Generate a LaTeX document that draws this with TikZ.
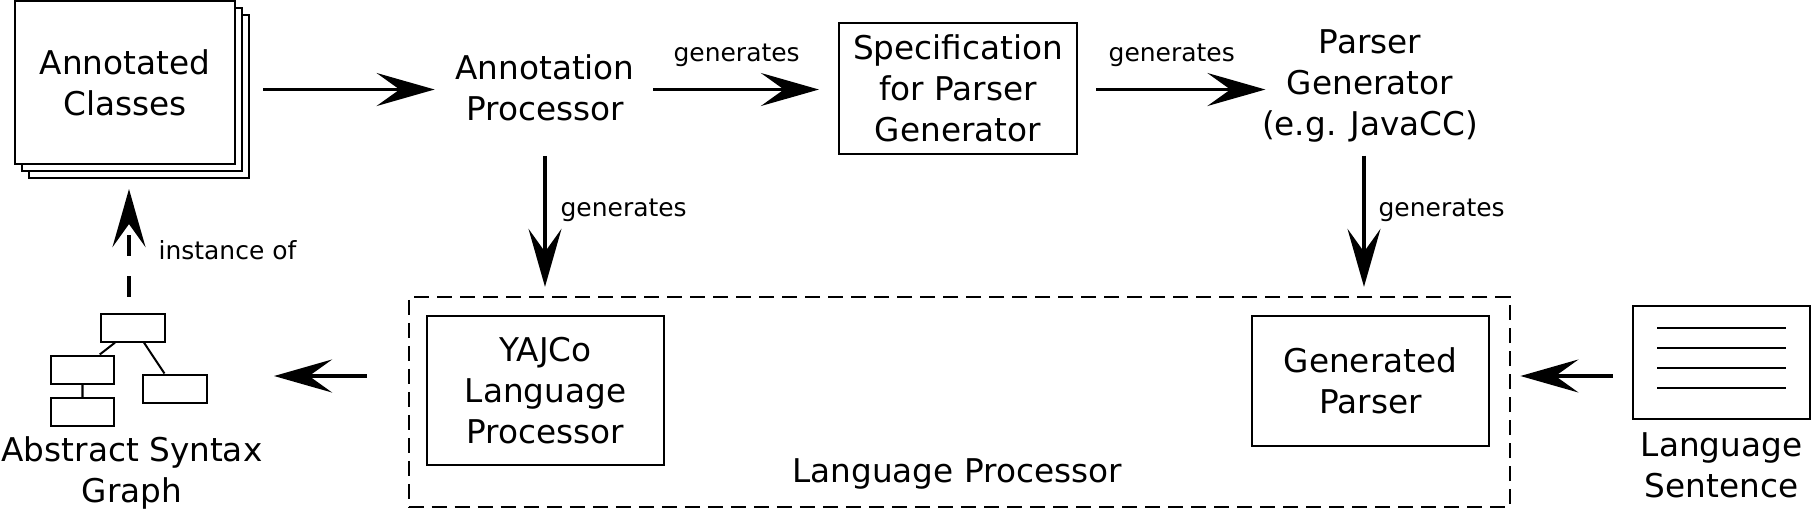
\documentclass[tikz,border=0pt]{standalone}
\usepackage{fontspec}
\setmainfont{DejaVu Sans}
\usetikzlibrary{arrows.meta,positioning,shadows,calc}

\begin{document}
\begin{tikzpicture}
  [x=0.01cm, y=-0.01cm,
   bigTxt/.style={font=\fontsize{9.3pt}{11.66pt}\selectfont, align=center, inner sep=0pt},
   smallTxt/.style={font=\fontsize{7.1pt}{8.5pt}\selectfont, inner sep=0pt},
   boxN/.style={draw, line width=0.02cm, bigTxt},
   stackN/.style={boxN, fill=white, minimum width=2.2cm, minimum height=1.63cm,
     copy shadow={shadow xshift=0.14cm, shadow yshift=-0.14cm},
     copy shadow={shadow xshift=0.07cm, shadow yshift=-0.07cm}},
   treeN/.style={draw, line width=0.02cm, minimum width=0.63cm, minimum height=0.28cm, inner sep=0pt},
   flow/.style={line width=0.032cm, -{Stealth[length=0.58cm, width=0.33cm, inset=0.23cm]}},
   groupN/.style={draw, dash pattern=on 0.15cm off 0.08cm, line width=0.022cm,
     minimum width=11.01cm, minimum height=2.1cm},
  ]
  \useasboundingbox (0,0) rectangle (1811,511);

  % top row
  \node[stackN] (annot) at (125,82.5) {Annotated\\Classes};
  \node[bigTxt] (annProc) at (545,88) {Annotation\\Processor};
  \node[boxN, minimum width=2.38cm, minimum height=1.31cm] (spec) at (958,88.5)
    {Specification\\for Parser\\Generator};
  \node[bigTxt] (parGen) at (1370,85.5) {Parser\\Generator\\(e.g. JavaCC)};

  % language processor
  \node[groupN] (lp) at (959.5,402) {};
  \node[bigTxt, anchor=base] (lpLbl) at (957,482) {Language Processor};
  \node[boxN, minimum width=2.37cm, minimum height=1.49cm] (yajco) at (545.5,390.5)
    {YAJCo\\Language\\Processor};
  \node[boxN, minimum width=2.37cm, minimum height=1.3cm] (genPar) at (1370.5,381)
    {Generated\\Parser};

  % sentence
  \node[draw, line width=0.02cm, minimum width=1.77cm, minimum height=1.13cm] (sent) at (1721.5,362.5) {};
  \foreach \yy in {328,348,368,388}
    \draw[line width=0.02cm] (1657,\yy) -- (1786,\yy);
  \node[bigTxt, below=0.12cm of sent] (sentLbl) {Language\\Sentence};

  % abstract syntax graph
  \node[treeN] (t0) at (133,327.5) {};
  \node[treeN] (t1) at (82.5,369.5) {};
  \node[treeN] (t2) at (82.5,412) {};
  \node[treeN] (t3) at (175,388.5) {};
  \draw[line width=0.02cm] (t0.220) -- (t1.41) (t0.306) -- (t3.125) (t1) -- (t2);
  \node[bigTxt] (astLbl) at (132,473) {Abstract Syntax\\Graph};

  \coordinate (topRow) at (0,89.5);
  \coordinate (midRow) at (0,376);
  \coordinate (instCol) at (129,0);
  \coordinate (pgFoot) at ([xshift=-0.06cm]parGen.south);

  % connectors
  \draw[flow, shorten <=0.27cm, shorten >=0.2cm] (annot.east |- topRow) -- (annProc.west |- topRow);
  \draw[flow, shorten <=0.18cm, shorten >=0.19cm] (annProc.east |- topRow)
    -- node[smallTxt, above=0.21cm] (gen1) {generates} (spec.west |- topRow);
  \draw[flow, shorten <=0.18cm] (spec.east |- topRow)
    -- node[smallTxt, above=0.21cm] (gen2) {generates} ([xshift=0.04cm]parGen.west |- topRow);
  \draw[flow, shorten <=0.34cm, shorten >=0.09cm] (annProc.south)
    -- node[smallTxt, pos=0.51, right=0.14cm] (gen3) {generates} (annProc.south |- lp.north);
  \draw[flow, shorten <=0.13cm, shorten >=0.09cm] (pgFoot)
    -- node[smallTxt, pos=0.445, right=0.13cm] (gen4) {generates} (pgFoot |- lp.north);
  \draw[flow, shorten <=0.41cm, shorten >=0.665cm] (lp.west |- midRow) -- (t3.east |- midRow);
  \draw[flow, shorten <=0.19cm, shorten >=0.09cm] (sent.west |- midRow) -- (lp.east |- midRow);
  \draw[flow, dash pattern=on 0.21cm off 0.2cm, shorten <=0.155cm, shorten >=0.24cm] (instCol |- t0.north)
    -- node[smallTxt, pos=0.42, right=0.28cm] (inst) {instance of} (instCol |- annot.south);
\end{tikzpicture}
\end{document}
